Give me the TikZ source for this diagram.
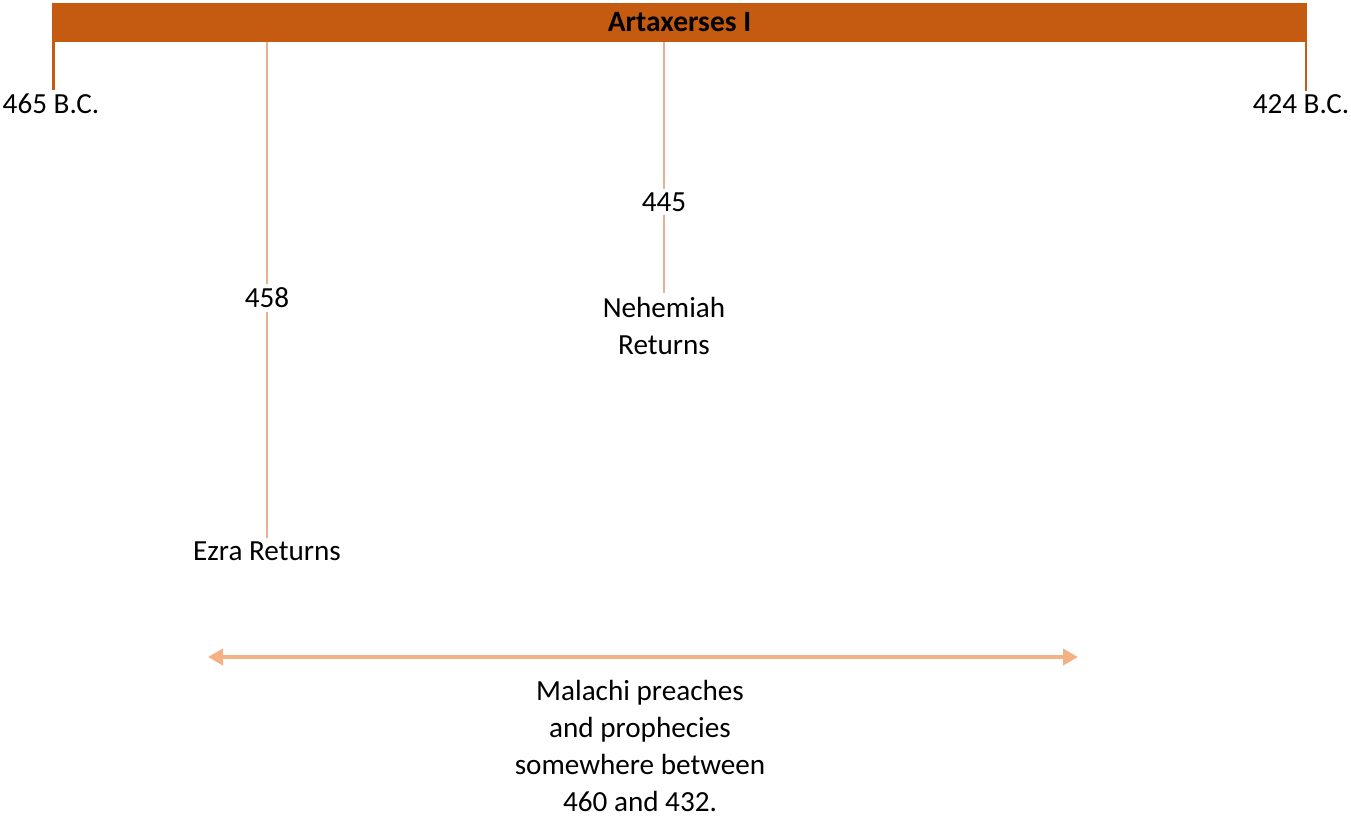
\documentclass[tikz,border=0pt]{standalone}
\usepackage{fontspec}
\setmainfont{Carlito}
\usepackage{tikz}
\usetikzlibrary{positioning, arrows.meta, calc}
\definecolor{reignOrange}{RGB}{197, 90, 17}
\definecolor{eventPeach}{RGB}{232, 176, 145}
\definecolor{spanPeach}{RGB}{244, 177, 131}
\tikzset{
  reignBar/.style={
    fill=reignOrange,
    draw=none,
    minimum width=25.1cm,
    minimum height=0.78cm,
    inner sep=0pt,
    font=\fontsize{16.8}{20}\selectfont\bfseries
  },
  dateLabel/.style={
    inner sep=2pt,
    font=\fontsize{16.6}{20}\selectfont
  },
  eventLabel/.style={
    align=center,
    inner sep=2pt,
    font=\fontsize{16.6}{21}\selectfont
  },
  endTick/.style={
    draw=reignOrange,
    line width=1.4pt
  },
  eventLine/.style={
    draw=eventPeach,
    line width=1.6pt
  },
  spanArrow/.style={
    {Triangle[length=0.3cm,width=0.32cm]}-{Triangle[length=0.3cm,width=0.32cm]},
    draw=spanPeach,
    line width=2.2pt
  }
}
\begin{document}
\begin{tikzpicture}[x=0.02cm, y=-0.02cm]
  \useasboundingbox (0,0) rectangle (1351,817);
  % reign of the king
  \node[reignBar] (reign) at (679.5,22.5) {Artaxerses I};
  \node[dateLabel] (start) at (51,104) {465 B.C.};
  \node[dateLabel] (finish) at (1301,104) {424 B.C.};
  \draw[endTick] (reign.south west) ++(1.5,0) coordinate (startTop) -- (startTop |- start.north);
  \draw[endTick] (reign.south east) ++(-1.5,0) coordinate (finishTop) -- (finishTop |- finish.north);
  % Ezra
  \node[dateLabel] (ezraYear) at (267,298) {458};
  \node[eventLabel] (ezra) at (267,551) {Ezra Returns};
  \draw[eventLine] (ezraYear |- reign.south) -- (ezraYear.north);
  \draw[eventLine] (ezraYear.south) -- (ezra.north);
  % Nehemiah
  \node[dateLabel] (nehYear) at (664,202) {445};
  \node[eventLabel] (neh) at (664,326) {Nehemiah\\Returns};
  \draw[eventLine] (nehYear |- reign.south) -- (nehYear.north);
  \draw[eventLine] (nehYear.south) -- (neh.north);
  % Malachi
  \coordinate (malStart) at (208,657);
  \coordinate (malEnd) at (1078,657);
  \draw[spanArrow] (malStart) -- (malEnd);
  \node[eventLabel, inner sep=1pt] (malachi) at (640,746) {Malachi preaches\\and prophecies\\somewhere between\\460 and 432.};
\end{tikzpicture}
\end{document}
